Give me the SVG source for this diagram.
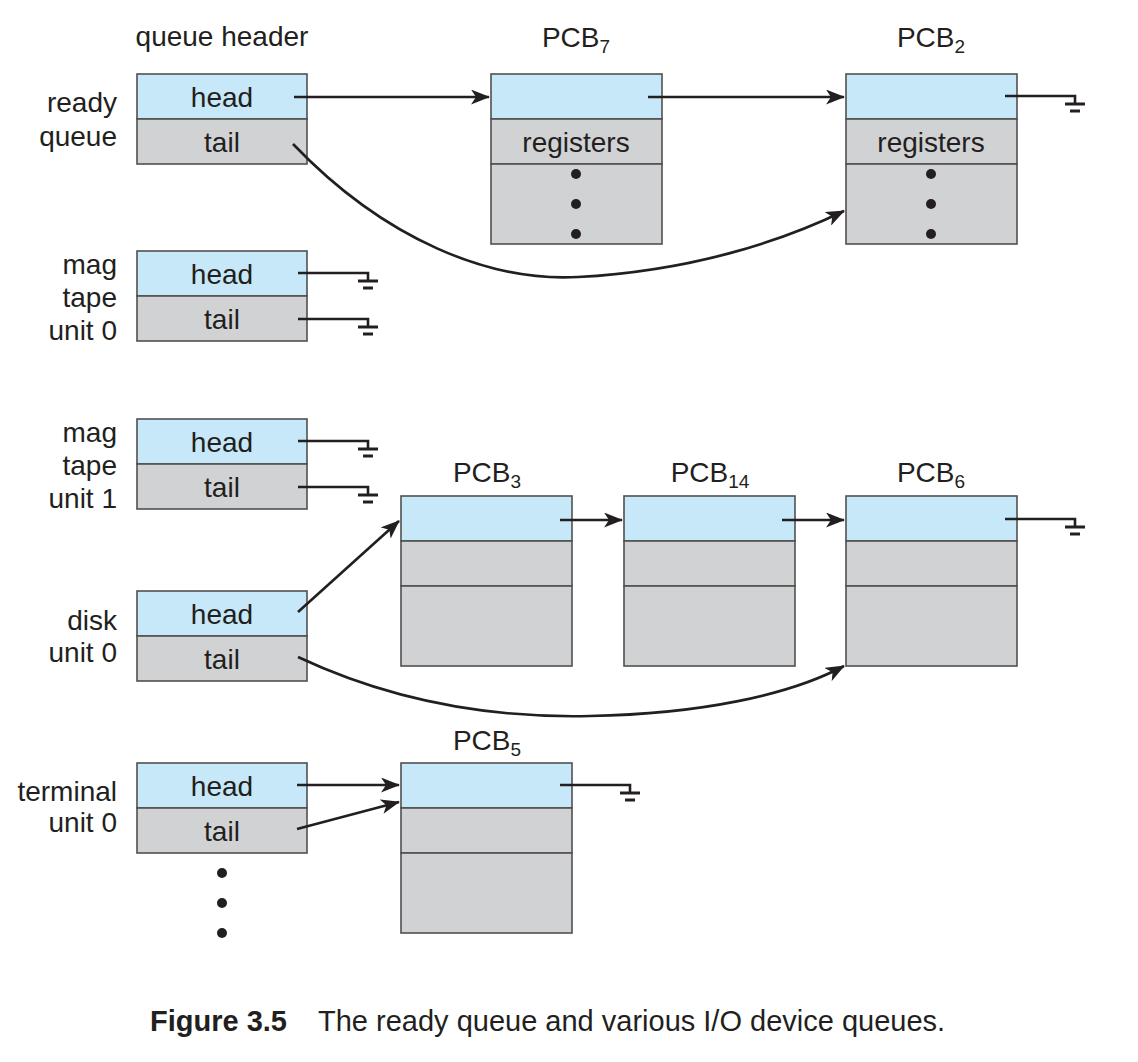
<svg xmlns="http://www.w3.org/2000/svg" width="1138" height="1062" viewBox="0 0 1138 1062">
<style>
text{font-family:"Liberation Sans",Arial,Helvetica,sans-serif;font-size:28px;fill:#231f20}
.c{text-anchor:middle}
.r{text-anchor:end}
.sub{font-size:19px}
.cap{font-size:29px}
.blue{fill:#c6e8f8;stroke:#505050;stroke-width:1.6}
.gray{fill:#d1d2d4;stroke:#505050;stroke-width:1.6}
.ln{fill:none;stroke:#231f20;stroke-width:2.6}
.gl{fill:none;stroke:#231f20;stroke-width:2.6}
.dot{fill:#231f20}
</style>
<defs>
<marker id="ah" markerUnits="userSpaceOnUse" markerWidth="19" markerHeight="15" viewBox="0 0 19 15" refX="18" refY="7.5" orient="auto">
<path d="M0,0 L19,7.5 L0,15 L5,7.5 z" fill="#231f20"/>
</marker>
<g id="gnd">
<path d="M0,0 H70 V8" class="gl"/>
<path d="M60,8 H80" stroke="#231f20" stroke-width="3" fill="none"/>
<path d="M65,15 H75" stroke="#231f20" stroke-width="3" fill="none"/>
</g>
</defs>
<rect width="1138" height="1062" fill="#fff"/>

<g id="header-label"><text class="c" x="222" y="46">queue header</text></g>

<g id="ready-queue">
<text class="r" x="117" y="112">ready</text>
<text class="r" x="117" y="146">queue</text>
<rect class="blue" x="137" y="74" width="170" height="45"/>
<rect class="gray" x="137" y="119" width="170" height="45"/>
<text class="c" x="222" y="107">head</text>
<text class="c" x="222" y="152">tail</text>
</g>

<g id="mag-tape-0">
<text class="r" x="117" y="274">mag</text>
<text class="r" x="117" y="307">tape</text>
<text class="r" x="117" y="340">unit 0</text>
<rect class="blue" x="137" y="251" width="170" height="45"/>
<rect class="gray" x="137" y="296" width="170" height="45"/>
<text class="c" x="222" y="284">head</text>
<text class="c" x="222" y="329">tail</text>
</g>

<g id="mag-tape-1">
<text class="r" x="117" y="442">mag</text>
<text class="r" x="117" y="475">tape</text>
<text class="r" x="117" y="508">unit 1</text>
<rect class="blue" x="137" y="419" width="170" height="45"/>
<rect class="gray" x="137" y="464" width="170" height="45"/>
<text class="c" x="222" y="452">head</text>
<text class="c" x="222" y="497">tail</text>
</g>

<g id="disk-0">
<text class="r" x="117" y="630">disk</text>
<text class="r" x="117" y="662">unit 0</text>
<rect class="blue" x="137" y="591" width="170" height="45"/>
<rect class="gray" x="137" y="636" width="170" height="45"/>
<text class="c" x="222" y="624">head</text>
<text class="c" x="222" y="669">tail</text>
</g>

<g id="terminal-0">
<text class="r" x="117" y="801">terminal</text>
<text class="r" x="117" y="832">unit 0</text>
<rect class="blue" x="137" y="763" width="170" height="45"/>
<rect class="gray" x="137" y="808" width="170" height="45"/>
<text class="c" x="222" y="796">head</text>
<text class="c" x="222" y="841">tail</text>
<circle class="dot" cx="222" cy="873" r="5"/>
<circle class="dot" cx="222" cy="903" r="5"/>
<circle class="dot" cx="222" cy="933" r="5"/>
</g>

<g id="pcb7">
<text class="c" x="576" y="47">PCB<tspan class="sub" dy="6">7</tspan></text>
<rect class="blue" x="491" y="74" width="171" height="45"/>
<rect class="gray" x="491" y="119" width="171" height="45"/>
<rect class="gray" x="491" y="164" width="171" height="80"/>
<text class="c" x="576" y="152">registers</text>
<circle class="dot" cx="576" cy="174" r="5"/>
<circle class="dot" cx="576" cy="204" r="5"/>
<circle class="dot" cx="576" cy="234" r="5"/>
</g>

<g id="pcb2">
<text class="c" x="931" y="47">PCB<tspan class="sub" dy="6">2</tspan></text>
<rect class="blue" x="846" y="74" width="171" height="45"/>
<rect class="gray" x="846" y="119" width="171" height="45"/>
<rect class="gray" x="846" y="164" width="171" height="80"/>
<text class="c" x="931" y="152">registers</text>
<circle class="dot" cx="931" cy="174" r="5"/>
<circle class="dot" cx="931" cy="204" r="5"/>
<circle class="dot" cx="931" cy="234" r="5"/>
</g>

<g id="pcb3">
<text class="c" x="487" y="482">PCB<tspan class="sub" dy="6">3</tspan></text>
<rect class="blue" x="401" y="496" width="171" height="45"/>
<rect class="gray" x="401" y="541" width="171" height="45"/>
<rect class="gray" x="401" y="586" width="171" height="80"/>
</g>

<g id="pcb14">
<text class="c" x="710" y="482">PCB<tspan class="sub" dy="6">14</tspan></text>
<rect class="blue" x="624" y="496" width="171" height="45"/>
<rect class="gray" x="624" y="541" width="171" height="45"/>
<rect class="gray" x="624" y="586" width="171" height="80"/>
</g>

<g id="pcb6">
<text class="c" x="931" y="482">PCB<tspan class="sub" dy="6">6</tspan></text>
<rect class="blue" x="846" y="496" width="171" height="45"/>
<rect class="gray" x="846" y="541" width="171" height="45"/>
<rect class="gray" x="846" y="586" width="171" height="80"/>
</g>

<g id="pcb5">
<text class="c" x="487" y="750">PCB<tspan class="sub" dy="6">5</tspan></text>
<rect class="blue" x="401" y="763" width="171" height="45"/>
<rect class="gray" x="401" y="808" width="171" height="45"/>
<rect class="gray" x="401" y="853" width="171" height="80"/>
</g>

<g id="connectors">
<path class="ln" d="M294,97 H489" marker-end="url(#ah)"/>
<path class="ln" d="M648,97 H844" marker-end="url(#ah)"/>
<path class="ln" d="M293,144 C385,240 490,282 578,277 C690,271 780,242 844,211" marker-end="url(#ah)"/>
<use href="#gnd" x="1005" y="96"/>
<use href="#gnd" x="298" y="273"/>
<use href="#gnd" x="298" y="319"/>
<use href="#gnd" x="298" y="441"/>
<use href="#gnd" x="298" y="487"/>
<path class="ln" d="M560,520 H622" marker-end="url(#ah)"/>
<path class="ln" d="M782,520 H844" marker-end="url(#ah)"/>
<use href="#gnd" x="1005" y="519"/>
<path class="ln" d="M298,612 L399,521" marker-end="url(#ah)"/>
<path class="ln" d="M298,657 C400,705 500,718 590,716 C700,714 790,695 844,666" marker-end="url(#ah)"/>
<path class="ln" d="M297,785 H399" marker-end="url(#ah)"/>
<path class="ln" d="M297,829 L399,802" marker-end="url(#ah)"/>
<use href="#gnd" x="560" y="785"/>
</g>

<g id="caption">
<text class="cap" x="150" y="1031"><tspan font-weight="bold">Figure 3.5</tspan><tspan x="318">The ready queue and various I/O device queues.</tspan></text>
</g>
</svg>
